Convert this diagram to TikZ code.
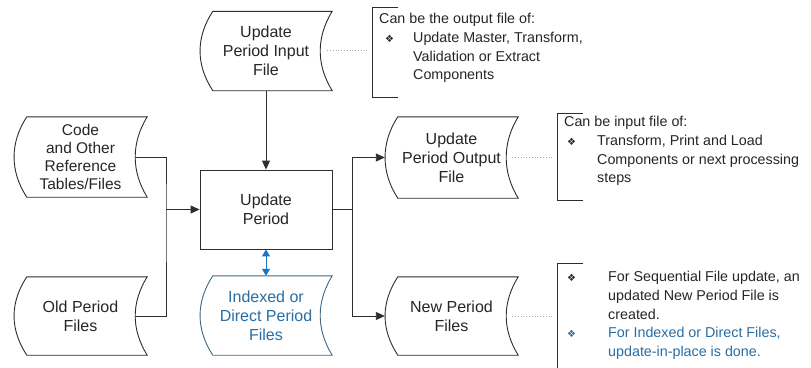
\documentclass[tikz,border=0pt]{standalone}
\usepackage{fontspec}
\setmainfont{Liberation Sans}
\newfontfamily\dingfont{DejaVu Sans}
\usetikzlibrary{arrows.meta,calc}

\definecolor{lineGray}{RGB}{45,45,45}
\definecolor{fileBlue}{RGB}{60,105,135}
\definecolor{textBlue}{RGB}{40,110,165}
\definecolor{arrowBlue}{RGB}{25,115,200}

\newcommand{\bul}{{\dingfont\fontsize{10}{10}\selectfont ❖}}

\tikzset{
  shapetext/.style={font=\fontsize{16}{19}\selectfont, align=center, inner sep=0pt, text=black!85},
  filenode/.style={shapetext, minimum width=132pt, minimum height=79pt},
  procbox/.style={shapetext, draw=lineGray, line width=0.9pt, minimum width=132pt, minimum height=79pt},
  outline/.style={draw=lineGray, line width=0.9pt},
  flow/.style={draw=lineGray, line width=0.9pt, -{Triangle[length=9pt,width=8pt]}},
  plain/.style={draw=lineGray, line width=0.9pt},
  note/.style={draw=gray!70, line width=0.8pt, dotted},
  bracket/.style={draw=lineGray, line width=0.9pt},
  notetext/.style={font=\fontsize{14.3}{18.8}\selectfont, align=left, anchor=north west, inner sep=0pt, text=black!85},
}

% stored-data outline: convex left edge, concave right edge
\newcommand{\storedfile}[2][outline]{%
  \draw[#1] ([xshift=13pt]#2.north west) -- (#2.north east)
    .. controls +(-16pt,-26pt) and +(-16pt,26pt) .. (#2.south east)
    -- ([xshift=13pt]#2.south west)
    .. controls +(-17pt,26pt) and +(-17pt,-26pt) .. ([xshift=13pt]#2.north west) -- cycle;}

\begin{document}
\begin{tikzpicture}[x=1pt,y=-1pt]
\useasboundingbox (0,0) rectangle (811,367);
\fill[white] (0,0) rectangle (811,367);

% file and process nodes
\node[filenode] (inp)  at (266,51)    {Update\\Period Input\\File};
\node[filenode, minimum width=133pt, minimum height=80pt, font=\fontsize{15.5}{17.8}\selectfont] (code) at (80.5,157) {Code\\and Other\\Reference\\Tables/Files};
\node[filenode, minimum width=133pt, minimum height=78pt] (old)  at (80.5,316) {Old Period\\Files};
\node[procbox] (upd) at (266,209.5) {Update\\Period};
\node[filenode, minimum height=79pt, text=textBlue] (idx) at (266,315.5) {Indexed or\\Direct Period\\Files};
\node[filenode, minimum width=133pt, minimum height=81pt] (outp) at (451.5,157.5) {Update\\Period Output\\File};
\node[filenode, minimum width=133pt, minimum height=78pt] (newp) at (451.5,316) {New Period\\Files};

\storedfile{inp}
\storedfile{code}
\storedfile{old}
\storedfile[draw=fileBlue, line width=0.9pt]{idx}
\storedfile{outp}
\storedfile{newp}

% junctions of the flow lines
\coordinate (jl) at (166,209.5);
\coordinate (jr) at (352,209.5);

\draw[flow] (inp.south) -- (upd.north);
\draw[plain] ([xshift=-12pt]code.east) -| (jl) |- ([xshift=-12pt]old.east);
\draw[flow] (jl) -- (upd.west);
\draw[plain] (upd.east) -- (jr);
\draw[flow] (jr) |- (outp.west);
\draw[flow] (jr) |- (newp.west);
\draw[draw=arrowBlue, line width=1pt, {Triangle[length=7pt,width=8pt]}-{Triangle[length=7pt,width=8pt]}] (upd.south) -- (idx.north);

% annotation brackets
\coordinate (b1) at (372,50);
\coordinate (b2) at (557,157.5);
\coordinate (b3) at (557,316);
\draw[bracket] (398,7) -- (372,7) -- (372,97) -- (398,97);
\draw[bracket] (583,113) -- (557,113) -- (557,200) -- (583,200);
\draw[bracket] (583,263) -- (557,263) -- (557,370);

\draw[note] ([xshift=-5pt]inp.east |- b1) -- ([xshift=-4pt]b1);
\draw[note] ([xshift=-6pt]outp.east) -- ([xshift=-4pt]b2);
\draw[note] ([xshift=-6pt]newp.east) -- ([xshift=-4pt]b3);

% annotation texts
\node[notetext] (t1) at (379,13) {Can be the output file of:\\
  \makebox[34pt][l]{\hspace{6pt}\bul}Update Master, Transform,\\
  \hspace*{34pt}Validation or Extract\\
  \hspace*{34pt}Components};
\node[notetext] (t2) at (564,116) {Can be input file of:\\
  \makebox[33pt][l]{\hspace{3pt}\bul}Transform, Print and Load\\
  \hspace*{33pt}Components or next processing\\
  \hspace*{33pt}steps};
\node[notetext] (t3) at (567,271) {%
  \makebox[41pt][l]{\bul}For Sequential File update, an\\
  \hspace*{41pt}updated New Period File is\\
  \hspace*{41pt}created.\\
  \color{textBlue}\makebox[41pt][l]{\bul}For Indexed or Direct Files,\\
  \color{textBlue}\hspace*{41pt}update-in-place is done.};
\end{tikzpicture}
\end{document}
